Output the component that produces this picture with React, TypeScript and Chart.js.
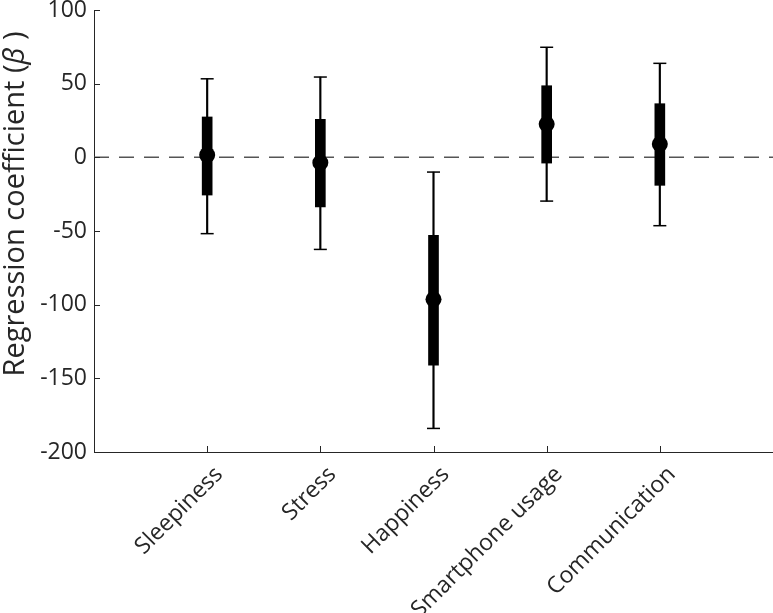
import React, { useEffect, useRef } from 'react';
import { Chart, registerables } from 'chart.js';

Chart.register(...registerables);

const categories = ['Sleepiness', 'Stress', 'Happiness', 'Smartphone usage', 'Communication'];
const coefficients = [1.6, -3.6, -96.4, 22.6, 9.0];
const innerLow = [-25.6, -33.7, -141, -3.9, -19.0];
const innerHigh = [27.4, 25.8, -53, 48.6, 36.4];
const outerLow = [-51.8, -62.5, -184, -29.7, -46.4];
const outerHigh = [53.3, 54.5, -10, 74.7, 63.8];
const yMin = -200;
const yMax = 100;
const yStep = 50;
const referenceLine = 0;
const yTitleStart = 'Regression coefficient (';
const yTitleSymbol = 'β';
const yTitleEnd = ' )';

const FONT = '"Open Sans", "Noto Sans", sans-serif';
const AXIS = '#262626';

export default function App() {
  const ref = useRef<HTMLCanvasElement>(null);

  useEffect(() => {
    document.body.style.margin = '0';
    const positions = categories.map((_, i) => i + 1);
    const xMax = categories.length + 1;

    const inwardTicks = {
      id: 'inwardTicks',
      afterDatasetsDraw(chart: any) {
        const { ctx, chartArea, scales } = chart;
        ctx.save();
        ctx.strokeStyle = AXIS;
        ctx.lineWidth = 1;
        ctx.beginPath();
        scales.y.ticks.forEach((t: any) => {
          const py = Math.round(scales.y.getPixelForValue(t.value)) + 0.5;
          ctx.moveTo(chartArea.left, py);
          ctx.lineTo(chartArea.left + 6, py);
        });
        positions.forEach((v) => {
          const px = Math.round(scales.x.getPixelForValue(v)) + 0.5;
          ctx.moveTo(px, chartArea.bottom);
          ctx.lineTo(px, chartArea.bottom - 6);
        });
        ctx.stroke();
        ctx.restore();
      },
    };

    const yTitle = {
      id: 'yTitle',
      afterDraw(chart: any) {
        const { ctx } = chart;
        ctx.save();
        ctx.fillStyle = AXIS;
        ctx.textBaseline = 'middle';
        ctx.textAlign = 'left';
        const normal = `29px ${FONT}`;
        const italic = `italic 29px ${FONT}`;
        ctx.font = normal;
        const w1 = ctx.measureText(yTitleStart).width;
        const w3 = ctx.measureText(yTitleEnd).width;
        ctx.font = italic;
        const w2 = ctx.measureText(yTitleSymbol).width;
        const total = w1 + w2 + w3;
        ctx.translate(16, 204);
        ctx.rotate(-Math.PI / 2);
        let x = -total / 2;
        ctx.font = normal;
        ctx.fillText(yTitleStart, x, 0);
        x += w1;
        ctx.font = italic;
        ctx.fillText(yTitleSymbol, x, 0);
        x += w2;
        ctx.font = normal;
        ctx.fillText(yTitleEnd, x, 0);
        ctx.restore();
      },
    };

    const chart = new Chart(ref.current as HTMLCanvasElement, {
      type: 'bar',
      data: {
        datasets: [
          {
            type: 'line',
            data: [
              { x: 0, y: referenceLine },
              { x: xMax, y: referenceLine },
            ],
            borderColor: '#555555',
            borderWidth: 1.5,
            borderDash: [15, 10],
            pointRadius: 0,
            order: 5,
          } as any,
          {
            type: 'bar',
            data: positions.map((x, i) => ({ x, y: [outerLow[i], outerHigh[i]] })),
            backgroundColor: '#000',
            barThickness: 1.5,
            grouped: false,
            order: 4,
          } as any,
          {
            type: 'scatter',
            data: positions.flatMap((x, i) => [
              { x, y: outerLow[i] },
              { x, y: outerHigh[i] },
            ]),
            pointStyle: 'line',
            pointRadius: 6.5,
            borderColor: '#000',
            borderWidth: 1.5,
            order: 3,
          } as any,
          {
            type: 'bar',
            data: positions.map((x, i) => ({ x, y: [innerLow[i], innerHigh[i]] })),
            backgroundColor: '#000',
            barThickness: 10,
            grouped: false,
            order: 2,
          } as any,
          {
            type: 'scatter',
            data: positions.map((x, i) => ({ x, y: coefficients[i] })),
            pointRadius: 8,
            backgroundColor: '#000',
            borderWidth: 0,
            order: 1,
          } as any,
        ],
      },
      options: {
        animation: false,
        responsive: false,
        devicePixelRatio: 1,
        layout: { autoPadding: false, padding: { top: 10, left: 0, right: 0, bottom: 0 } },
        plugins: { legend: { display: false }, tooltip: { enabled: false } },
        scales: {
          x: {
            type: 'linear',
            min: 0,
            max: xMax,
            offset: false,
            grid: { display: false, drawTicks: false, tickLength: 0 },
            border: { display: true, color: AXIS, width: 1 },
            ticks: {
              stepSize: 1,
              autoSkip: false,
              maxRotation: 45,
              minRotation: 45,
              padding: 9,
              labelOffset: 12,
              color: AXIS,
              font: { family: FONT, size: 23 },
              callback: (v: any) => {
                const n = Number(v);
                return Number.isInteger(n) && n >= 1 && n <= categories.length ? categories[n - 1] : '';
              },
            },
            afterFit(scale: any) {
              scale.height = 161;
              scale.paddingLeft = 0;
              scale.paddingRight = 0;
            },
          },
          y: {
            type: 'linear',
            min: yMin,
            max: yMax,
            grid: { display: false, drawTicks: false, tickLength: 0 },
            border: { display: true, color: AXIS, width: 1 },
            ticks: {
              stepSize: yStep,
              padding: 7,
              color: AXIS,
              font: { family: FONT, size: 23 },
            },
            afterFit(scale: any) {
              scale.width = 94;
              scale.paddingTop = 0;
              scale.paddingBottom = 0;
            },
          },
        },
      } as any,
      plugins: [inwardTicks, yTitle],
    });
    return () => chart.destroy();
  }, []);

  return (
    <div style={{ width: 773, height: 613 }}>
      <canvas ref={ref} width={773} height={613} style={{ display: 'block', width: 773, height: 613 }} />
    </div>
  );
}
